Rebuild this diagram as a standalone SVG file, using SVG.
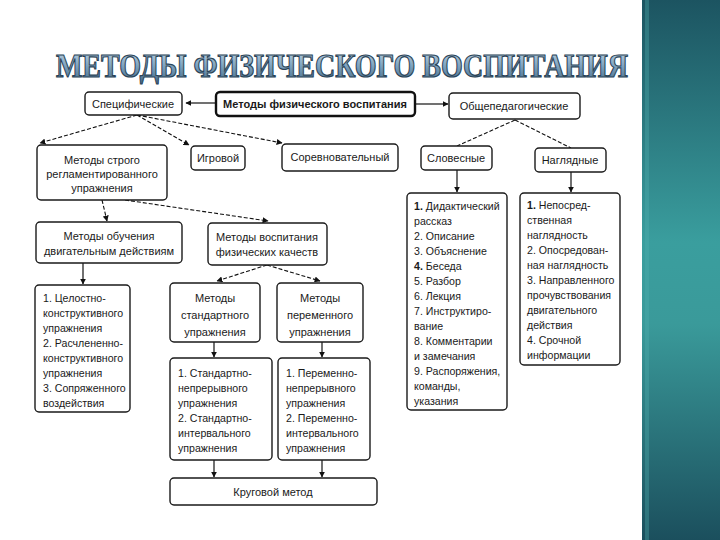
<svg xmlns="http://www.w3.org/2000/svg" width="720" height="540" viewBox="0 0 720 540">
<defs>
<linearGradient id="panel" x1="0" y1="0" x2="0" y2="1">
<stop offset="0" stop-color="#1c5461"/>
<stop offset="0.45" stop-color="#3a9e9e"/>
<stop offset="0.6" stop-color="#3a9a9a"/>
<stop offset="1" stop-color="#1b4f5d"/>
</linearGradient>
<linearGradient id="tg" x1="0" y1="0" x2="0" y2="1">
<stop offset="0" stop-color="#c9dcea"/>
<stop offset="0.5" stop-color="#7fa3c0"/>
<stop offset="1" stop-color="#3f6685"/>
</linearGradient>
<marker id="ah" viewBox="0 0 10 10" refX="9" refY="5" markerWidth="6" markerHeight="6" orient="auto" markerUnits="userSpaceOnUse">
<path d="M0,0 L10,5 L0,10 z" fill="#111"/>
</marker>
<style>
.b{fill:#fff;stroke:#1a1a1a;stroke-width:1.4}
.bt{fill:#fff;stroke:#111;stroke-width:2.4}
.t{font-family:"Liberation Sans",Arial,sans-serif;font-size:11px;fill:#1a1a1a;text-anchor:middle}
.l{font-family:"Liberation Sans",Arial,sans-serif;font-size:10.6px;fill:#1a1a1a}
.s{stroke:#111;stroke-width:1.2;fill:none}
.d{stroke:#111;stroke-width:1.1;fill:none;stroke-dasharray:4 2}
</style>
</defs>
<rect width="720" height="540" fill="#fff"/>
<rect x="642" y="0" width="78" height="540" fill="url(#panel)"/>
<rect x="645" y="0" width="4" height="540" fill="#4fb0b0" opacity="0.35"/>
<g transform="translate(342,77) scale(1,1.2)">
<text x="0" y="0" font-family="Liberation Serif,serif" font-weight="bold" font-size="28" fill="url(#tg)" stroke="#2b4457" stroke-width="1" text-anchor="middle">МЕТОДЫ ФИЗИЧЕСКОГО ВОСПИТАНИЯ</text>
</g>

<g id="connectors">
<line class="s" x1="215" y1="103" x2="186" y2="103" marker-end="url(#ah)"/>
<line class="s" x1="416" y1="104" x2="448" y2="104" marker-end="url(#ah)"/>
<line class="s" x1="457" y1="170" x2="457" y2="192" marker-end="url(#ah)"/>
<line class="s" x1="571" y1="172" x2="571" y2="192" marker-end="url(#ah)"/>
<line class="s" x1="83" y1="263" x2="83" y2="284" marker-end="url(#ah)"/>
<line class="s" x1="214" y1="342" x2="214" y2="357" marker-end="url(#ah)"/>
<line class="s" x1="322" y1="342" x2="322" y2="357" marker-end="url(#ah)"/>
<line class="s" x1="214" y1="460" x2="214" y2="477" marker-end="url(#ah)"/>
<line class="s" x1="322" y1="460" x2="322" y2="477" marker-end="url(#ah)"/>
<line class="d" x1="137" y1="115" x2="40" y2="143" marker-end="url(#ah)"/>
<line class="d" x1="137" y1="115" x2="189" y2="145" marker-end="url(#ah)"/>
<line class="d" x1="137" y1="115" x2="282" y2="143" marker-end="url(#ah)"/>
<line class="d" x1="515" y1="120" x2="457" y2="146"/>
<line class="d" x1="515" y1="120" x2="571" y2="148"/>
<line class="d" x1="102" y1="200" x2="107" y2="221" marker-end="url(#ah)"/>
<line class="d" x1="125" y1="200" x2="268" y2="221" marker-end="url(#ah)"/>
<line class="d" x1="267" y1="265" x2="217" y2="281" marker-end="url(#ah)"/>
<line class="d" x1="267" y1="265" x2="320" y2="281" marker-end="url(#ah)"/>
</g>

<g id="n-spec"><rect class="b" x="85" y="92" width="97" height="23" rx="4"/><text class="t" x="133" y="108">Специфические</text></g>
<g id="n-main"><rect class="bt" x="216" y="92" width="199" height="24" rx="4"/><text class="t" x="315" y="108" font-weight="bold">Методы физического воспитания</text></g>
<g id="n-obsh"><rect class="b" x="449" y="93" width="131" height="26" rx="4"/><text class="t" x="514" y="110">Общепедагогические</text></g>

<g id="n-strogo"><rect class="b" x="37" y="145" width="130" height="55" rx="4"/><text class="t" x="102" y="164">Методы строго</text><text class="t" x="102" y="178">регламентированного</text><text class="t" x="102" y="192">упражнения</text></g>
<g id="n-igr"><rect class="b" x="191" y="146" width="54" height="24" rx="4"/><text class="t" x="218" y="162">Игровой</text></g>
<g id="n-sor"><rect class="b" x="282" y="144" width="116" height="27" rx="4"/><text class="t" x="340" y="161">Соревновательный</text></g>
<g id="n-slov"><rect class="b" x="421" y="146" width="71" height="24" rx="4"/><text class="t" x="456" y="162">Словесные</text></g>
<g id="n-nagl"><rect class="b" x="535" y="148" width="71" height="24" rx="4"/><text class="t" x="570" y="164">Наглядные</text></g>

<g id="n-obuch"><rect class="b" x="36" y="222" width="146" height="41" rx="4"/><text class="t" x="109" y="240">Методы обучения</text><text class="t" x="109" y="255">двигательным действиям</text></g>
<g id="n-vosp"><rect class="b" x="208" y="223" width="119" height="42" rx="4"/><text class="t" x="267" y="241">Методы воспитания</text><text class="t" x="267" y="256">физических качеств</text></g>

<g id="n-list1"><rect class="b" x="35" y="285" width="95" height="127" rx="4"/>
<text class="l" x="43" y="302">1. Целостно-</text>
<text class="l" x="43" y="317">конструктивного</text>
<text class="l" x="43" y="332">упражнения</text>
<text class="l" x="43" y="347">2. Расчлененно-</text>
<text class="l" x="43" y="362">конструктивного</text>
<text class="l" x="43" y="377">упражнения</text>
<text class="l" x="43" y="392">3. Сопряженного</text>
<text class="l" x="43" y="407">воздействия</text></g>

<g id="n-stand"><rect class="b" x="170" y="283" width="90" height="59" rx="4"/><text class="t" x="215" y="302">Методы</text><text class="t" x="215" y="319">стандартного</text><text class="t" x="215" y="336">упражнения</text></g>
<g id="n-perem"><rect class="b" x="277" y="283" width="86" height="59" rx="4"/><text class="t" x="320" y="302">Методы</text><text class="t" x="320" y="319">переменного</text><text class="t" x="320" y="336">упражнения</text></g>

<g id="n-list-st"><rect class="b" x="170" y="358" width="102" height="102" rx="4"/>
<text class="l" x="178" y="377">1. Стандартно-</text>
<text class="l" x="178" y="392">непрерывного</text>
<text class="l" x="178" y="407">упражнения</text>
<text class="l" x="178" y="422">2. Стандартно-</text>
<text class="l" x="178" y="437">интервального</text>
<text class="l" x="178" y="452">упражнения</text></g>
<g id="n-list-per"><rect class="b" x="278" y="358" width="92" height="102" rx="4"/>
<text class="l" x="286" y="377">1. Переменно-</text>
<text class="l" x="286" y="392">непрерывного</text>
<text class="l" x="286" y="407">упражнения</text>
<text class="l" x="286" y="422">2. Переменно-</text>
<text class="l" x="286" y="437">интервального</text>
<text class="l" x="286" y="452">упражнения</text></g>

<g id="n-krug"><rect class="b" x="170" y="478" width="207" height="27" rx="4"/><text class="t" x="273" y="496">Круговой метод</text></g>

<g id="n-list-slov"><rect class="b" x="407" y="193" width="100" height="217" rx="4"/>
<text class="l" x="414" y="210"><tspan font-weight="bold">1.</tspan> Дидактический</text>
<text class="l" x="414" y="225">рассказ</text>
<text class="l" x="414" y="240">2. Описание</text>
<text class="l" x="414" y="255">3. Объяснение</text>
<text class="l" x="414" y="270"><tspan font-weight="bold">4.</tspan> Беседа</text>
<text class="l" x="414" y="285">5. Разбор</text>
<text class="l" x="414" y="300">6. Лекция</text>
<text class="l" x="414" y="315">7. Инструктиро-</text>
<text class="l" x="414" y="330">вание</text>
<text class="l" x="414" y="345">8. Комментарии</text>
<text class="l" x="414" y="360">и замечания</text>
<text class="l" x="414" y="375">9. Распоряжения,</text>
<text class="l" x="414" y="390">команды,</text>
<text class="l" x="414" y="405">указания</text></g>

<g id="n-list-nagl"><rect class="b" x="520" y="193" width="100" height="172" rx="4"/>
<text class="l" x="527" y="209"><tspan font-weight="bold">1.</tspan> Непосред-</text>
<text class="l" x="527" y="224">ственная</text>
<text class="l" x="527" y="239">наглядность</text>
<text class="l" x="527" y="254">2. Опосредован-</text>
<text class="l" x="527" y="269">ная наглядность</text>
<text class="l" x="527" y="284">3. Направленного</text>
<text class="l" x="527" y="299">прочувствования</text>
<text class="l" x="527" y="314">двигательного</text>
<text class="l" x="527" y="329">действия</text>
<text class="l" x="527" y="344">4. Срочной</text>
<text class="l" x="527" y="359">информации</text></g>
</svg>
